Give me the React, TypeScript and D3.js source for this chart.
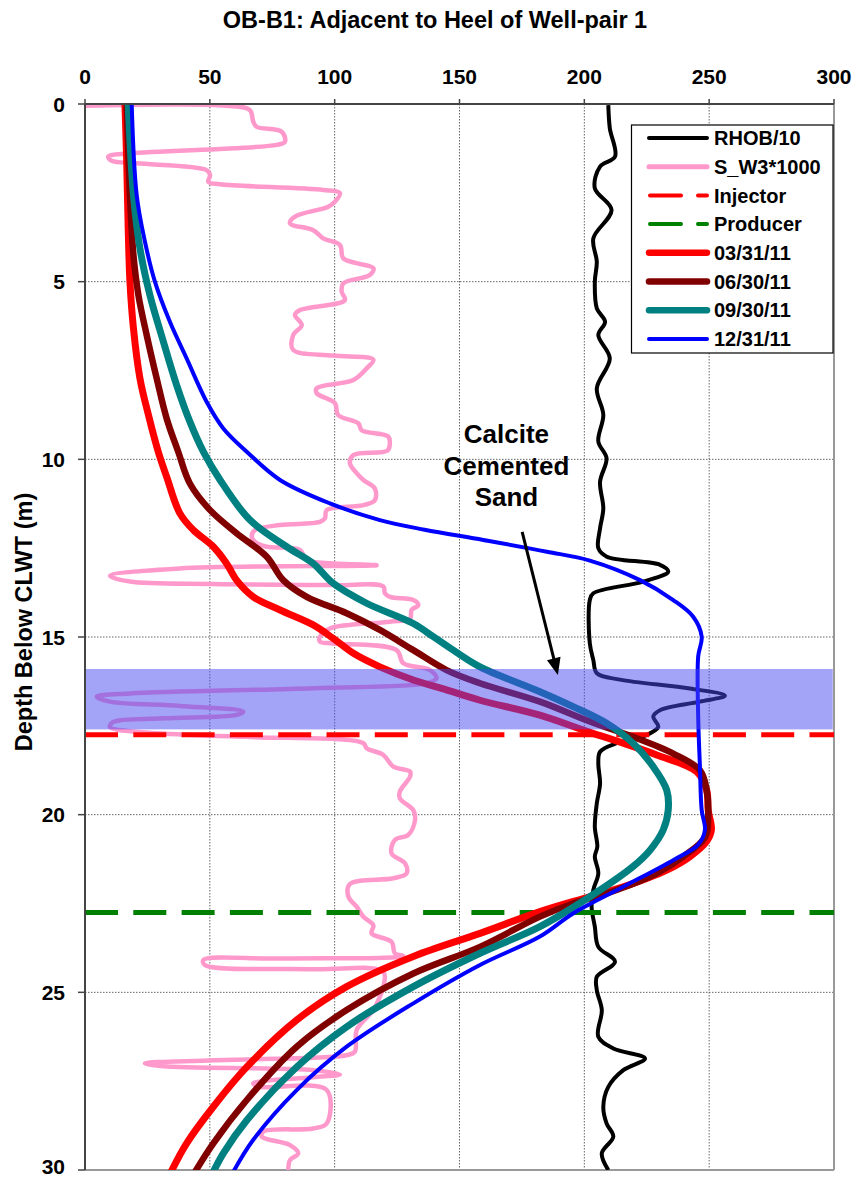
import React from 'react';
import * as d3 from 'd3';

const TITLE = 'OB-B1: Adjacent to Heel of Well-pair 1';
const Y_LABEL = 'Depth Below CLWT (m)';
const X_TICKS = [0, 50, 100, 150, 200, 250, 300];
const Y_TICKS = [0, 5, 10, 15, 20, 25, 30];
const INJECTOR_DEPTH = 17.75;
const PRODUCER_DEPTH = 22.75;
const CALCITE_TOP = 15.9;
const CALCITE_BOTTOM = 17.6;
const ANNOTATION_LINES = ['Calcite', 'Cemented', 'Sand'];

// [depth (m), value]
const RHOB: [number, number][] = [
  [0.03, 209.6], [0.68, 210.2], [1.48, 212.3], [1.76, 206.3], [2.37, 204.2], [2.98, 210.9],
  [3.78, 203.6], [4.44, 205], [5.0, 204.2], [5.75, 205], [6.13, 208.3], [6.5, 205.6],
  [7.16, 210.2], [8.0, 205], [8.75, 207.6], [9.5, 205.6], [9.97, 208.9], [10.63, 206.3],
  [11.38, 207.6], [11.94, 206.3], [12.5, 205.6], [12.74, 209], [12.97, 230.3], [13.16, 233.6],
  [13.44, 223.6], [13.77, 203.6], [13.96, 202.2], [15.18, 202.2], [15.65, 203.6], [16.02, 205],
  [16.2, 214.3], [16.45, 242.3], [16.65, 256.3], [16.82, 246.3], [17.06, 230.3], [17.24, 227.6],
  [17.53, 229.6], [17.8, 223.6], [17.99, 212.9], [18.23, 206.3], [18.56, 205.6], [19.12, 206.3],
  [19.68, 205], [20.34, 204.2], [20.9, 205.2], [21.18, 204.2], [21.65, 205.6], [22.12, 203.6],
  [22.59, 202.9], [23.15, 204.2], [23.72, 205.6], [24.14, 212.3], [24.56, 205], [24.94, 205],
  [25.5, 207], [26.25, 205.6], [26.58, 211.6], [26.86, 224.3], [27.19, 215.6], [27.66, 209.6],
  [28.22, 207.6], [28.69, 208.9], [29.06, 211.6], [29.53, 207], [30.0, 209.6],
];

const SW3: [number, number][] = [
  [0.05, 0], [0.05, 56.7], [0.17, 66], [0.5, 67.4], [0.64, 68.7], [0.78, 78.8], [1.06, 80.1],
  [1.15, 76.8], [1.39, 18], [1.48, 9.3], [1.6, 10.7], [1.67, 20.7], [1.86, 48.7], [2.0, 50.1],
  [2.19, 49.4], [2.26, 54.1], [2.42, 95.4], [2.51, 102.1], [2.75, 100.1], [2.89, 97.4],
  [3.17, 84.1], [3.36, 82.1], [3.55, 91.4], [3.78, 95.4], [3.97, 102.1], [4.34, 103.4],
  [4.48, 108.8], [4.62, 115.5], [4.81, 114.1], [5.05, 103.4], [5.28, 102.8], [5.52, 104.1],
  [5.8, 86.1], [5.94, 84.1], [6.22, 86.8], [6.5, 83.4], [6.92, 83.4], [7.08, 99.4], [7.2, 115.5],
  [7.44, 112.8], [7.77, 107.5], [8.0, 92.8], [8.14, 92.8], [8.42, 100.1], [8.75, 101.4],
  [8.99, 109.5], [9.18, 110.8], [9.36, 121.5], [9.55, 122.1], [9.75, 121.2], [9.88, 107.5],
  [10.11, 106.1], [10.39, 108.8], [10.58, 111.5], [10.82, 116.1], [11.15, 116.1], [11.29, 111.5],
  [11.43, 96.8], [11.66, 96.1], [11.76, 94.1], [11.85, 78.1], [11.99, 68.1], [12.18, 66.8],
  [12.36, 68.8], [12.46, 72.8], [12.55, 86.1], [12.83, 88.8], [12.93, 99.4], [12.98, 116.8],
  [13.07, 38], [13.28, 10], [13.44, 18], [13.51, 51.4], [13.54, 99.4], [13.58, 119.5],
  [13.77, 120.1], [13.87, 122.1], [13.96, 131.5], [14.1, 133.5], [14.24, 130.8], [14.48, 130.2],
  [14.57, 122.1], [14.76, 98.1], [14.99, 94.1], [15.13, 94.1], [15.18, 99.4], [15.37, 124.8],
  [15.74, 127.5], [15.93, 138.2], [16.16, 140.8], [16.3, 136.8], [16.44, 91.4], [16.59, 18],
  [16.68, 4.7], [16.82, 10], [16.94, 38], [17.1, 63.4], [17.19, 60.7], [17.29, 31.4],
  [17.39, 11.3], [17.53, 10], [17.69, 24.7], [17.81, 64.8], [17.99, 111.5], [18.13, 112.8],
  [18.32, 119.5], [18.65, 123.5], [18.79, 130.2], [18.93, 130.2], [19.35, 126.1], [19.54, 126.1],
  [19.87, 131.5], [20.15, 132.2], [20.57, 129.5], [20.71, 124.1], [21.09, 122.8], [21.37, 128.2],
  [21.65, 128.8], [21.79, 123.5], [21.95, 106.1], [22.31, 105.5], [22.59, 108.8], [22.87, 111.5],
  [23.11, 115.5], [23.34, 114.8], [23.58, 122.8], [23.9, 124.1], [23.98, 127.5], [24.05, 78.1],
  [24.09, 47.4], [24.23, 48], [24.35, 91.4], [24.42, 119.5], [24.84, 119.5], [25.22, 117.5],
  [25.5, 115.5], [26.06, 108.8], [26.67, 108.1], [26.77, 104.8], [26.91, 51.4], [27.0, 24],
  [27.08, 31.4], [27.19, 91.4], [27.31, 102.1], [27.39, 91.4], [27.56, 67.4], [27.66, 70.1],
  [27.75, 96.8], [28.69, 96.8], [28.83, 91.4], [28.92, 71.4], [29.06, 70.8], [29.3, 82.1],
  [29.53, 85.4], [29.72, 82.1], [30.0, 81.4],
];

const T_0331: [number, number][] = [
  [0, 16], [1.62, 16.7], [3.5, 17.3], [5.0, 18], [6.31, 19.4], [7.72, 22], [8.75, 25.4],
  [9.8, 29.4], [10.49, 32.7], [11.52, 38], [11.99, 43.4], [12.46, 51.4], [12.93, 56.7],
  [13.4, 60.7], [13.87, 67.4], [14.24, 78.1], [14.66, 91.4], [15.04, 99.4], [15.46, 107.5],
  [15.84, 118.1], [16.21, 131.5], [16.49, 144.8], [16.78, 158.2], [17.2, 182.2], [17.62, 199.6],
  [17.99, 215.6], [18.32, 229], [18.79, 245], [19.31, 249], [19.87, 249.6], [20.43, 250.9],
  [20.75, 249], [21.18, 242.3], [21.56, 233], [22.03, 215.6], [22.36, 199.6], [22.73, 182.2],
  [23.34, 158.2], [23.99, 131.5], [24.84, 104.8], [25.78, 84.8], [27.1, 64.8], [28.22, 51.4],
  [29.25, 40.7], [30.05, 34.5],
];

const T_0630: [number, number][] = [
  [0, 16.7], [2.56, 18], [4.25, 19.4], [5.38, 21.4], [6.5, 24.7], [7.72, 28.7], [8.85, 32.7],
  [9.8, 37.4], [10.68, 42], [11.43, 50.1], [12.08, 60.7], [12.74, 72.8], [13.4, 79.4],
  [13.87, 88.8], [14.33, 104.8], [14.8, 118.1], [15.37, 131.5], [15.93, 144.8], [16.3, 158.2],
  [16.82, 182.2], [17.38, 202.2], [17.81, 219.5], [18.28, 235.6], [18.75, 246.3], [19.31, 249],
  [20.06, 249.6], [20.62, 248.5], [21.18, 239.6], [21.65, 229], [22.12, 212.9], [22.5, 195.5],
  [22.87, 182.2], [23.72, 158.2], [24.47, 131.5], [25.5, 104.8], [26.53, 84.8], [28.03, 64.8],
  [29.25, 51.4], [30.05, 44.1],
];

const T_0930: [number, number][] = [
  [0, 17.3], [2.56, 19.4], [4.06, 22], [5.38, 26], [6.69, 31.4], [7.91, 36.7], [8.94, 42],
  [9.8, 47.5], [10.58, 54.1], [11.71, 66.1], [12.46, 80.8], [12.93, 91.4], [13.49, 99.4],
  [14.05, 112.8], [14.62, 131.5], [14.99, 139.5], [15.37, 147.5], [15.84, 158.2], [16.54, 182.2],
  [16.96, 195.5], [17.43, 208.9], [17.99, 219.5], [18.65, 227.6], [19.31, 233], [19.87, 233.6],
  [20.43, 231.6], [21.0, 226.3], [21.46, 219.5], [22.31, 202.2], [23.15, 182.2], [23.9, 158.2],
  [24.84, 131.5], [25.97, 104.8], [27.1, 84.8], [28.6, 64.8], [29.53, 55.4], [30.05, 51.4],
];

const T_1231: [number, number][] = [
  [0, 18.7], [2.56, 20.7], [3.87, 24], [5.0, 28], [6.13, 34], [7.16, 40.7], [8.38, 48.7],
  [9.13, 55.4], [9.8, 65], [10.58, 78.1], [11.24, 98.1], [11.71, 118.1], [11.98, 136],
  [12.27, 159.5], [12.6, 185], [12.85, 202.2], [13.4, 222.3], [13.96, 235.6], [14.43, 243.6],
  [14.99, 247], [15.55, 245.6], [17.24, 245.6], [18.65, 246.3], [19.87, 247], [20.43, 248.3],
  [20.85, 245.5], [21.28, 235.6], [22.03, 215.6], [22.78, 195.5], [23.43, 182.2], [24.23, 158.2],
  [25.31, 131.5], [26.53, 104.8], [27.75, 84.8], [29.15, 67.4], [30.05, 59.4],
];

const W = 857;
const H = 1177;
const M = { left: 85, right: 834, top: 104, bottom: 1170 };

interface Series {
  name: string;
  data: [number, number][];
  color: string;
  width: number;
}

const TEMP_SERIES: Series[] = [
  { name: '03/31/11', data: T_0331, color: '#FF0000', width: 7 },
  { name: '06/30/11', data: T_0630, color: '#800000', width: 6.5 },
  { name: '09/30/11', data: T_0930, color: '#008080', width: 7 },
  { name: '12/31/11', data: T_1231, color: '#0000FF', width: 4 },
];

const LEGEND = [
  { name: 'RHOB/10', color: '#000000', width: 4, dash: false },
  { name: 'S_W3*1000', color: '#FF99CC', width: 5, dash: false },
  { name: 'Injector', color: '#FF0000', width: 4, dash: true },
  { name: 'Producer', color: '#008000', width: 4, dash: true },
  { name: '03/31/11', color: '#FF0000', width: 6.5, dash: false },
  { name: '06/30/11', color: '#800000', width: 6.5, dash: false },
  { name: '09/30/11', color: '#008080', width: 6.5, dash: false },
  { name: '12/31/11', color: '#0000FF', width: 4, dash: false },
];

const FONT = "'Liberation Sans', Arial, Helvetica, sans-serif";

export default function App() {
  const x = d3.scaleLinear().domain([0, 300]).range([M.left, M.right]);
  const y = d3.scaleLinear().domain([0, 30]).range([M.top, M.bottom]);

  const line = d3
    .line<[number, number]>()
    .x((d) => x(d[1]))
    .y((d) => y(d[0]))
    .curve(d3.curveCatmullRom.alpha(0.5));

  // annotation arrow in data coords
  const a0 = { v: 175.1, d: 12.04 };
  const a1 = { v: 189.4, d: 16.07 };
  const ax0 = x(a0.v), ay0 = y(a0.d), ax1 = x(a1.v), ay1 = y(a1.d);
  const len = Math.hypot(ax1 - ax0, ay1 - ay0);
  const ux = (ax1 - ax0) / len, uy = (ay1 - ay0) / len;
  const headL = 17, headW = 7;
  const bx = ax1 - ux * headL, by = ay1 - uy * headL;
  const head = `${ax1},${ay1} ${bx - uy * headW},${by + ux * headW} ${bx + uy * headW},${by - ux * headW}`;

  const legX = 631.5, legY = 125, legW = 201.5, legH = 228;
  const rowY0 = 138, rowStep = 28.7;

  return (
    <svg width={W} height={H} style={{ position: 'absolute', left: 0, top: 0, background: '#fff' }} fontFamily={FONT}>
      <defs>
        <clipPath id="plot">
          <rect x={M.left} y={M.top} width={M.right - M.left} height={M.bottom - M.top} />
        </clipPath>
      </defs>
      <rect x={0} y={0} width={W} height={H} fill="#fff" />
      {/* title */}
      <text x={435} y={28} textAnchor="middle" fontSize={23.5} fontWeight="bold">{TITLE}</text>

      {/* gridlines */}
      {X_TICKS.filter((t) => t > 0 && t < 300).map((t) => (
        <line key={'gx' + t} x1={x(t)} x2={x(t)} y1={M.top} y2={M.bottom} stroke="#666" strokeWidth={1} strokeDasharray="1.5,1.5" />
      ))}
      {Y_TICKS.filter((t) => t > 0 && t < 30).map((t) => (
        <line key={'gy' + t} x1={M.left} x2={M.right} y1={y(t)} y2={y(t)} stroke="#666" strokeWidth={1} strokeDasharray="1.5,1.5" />
      ))}
      {/* right & bottom frame */}
      <line x1={M.right} x2={M.right} y1={M.top} y2={M.bottom} stroke="#999" strokeWidth={2} />
      <line x1={M.left} x2={M.right} y1={M.bottom} y2={M.bottom} stroke="#999" strokeWidth={2} />

      <g clipPath="url(#plot)">
        <path d={line(SW3) || ''} fill="none" stroke="#FF99CC" strokeWidth={4.5} strokeLinejoin="round" />
        <path d={line(RHOB) || ''} fill="none" stroke="#000" strokeWidth={4} strokeLinejoin="round" />
        <line x1={M.left} x2={M.right} y1={y(INJECTOR_DEPTH)} y2={y(INJECTOR_DEPTH)} stroke="#FF0000" strokeWidth={5} strokeDasharray="33,15.3" />
        <line x1={M.left} x2={M.right} y1={y(PRODUCER_DEPTH)} y2={y(PRODUCER_DEPTH)} stroke="#008000" strokeWidth={5} strokeDasharray="33,15.3" />
        {TEMP_SERIES.map((s) => (
          <path key={s.name} d={line(s.data) || ''} fill="none" stroke={s.color} strokeWidth={s.width} strokeLinejoin="round" strokeLinecap="round" />
        ))}
        <rect x={x(0)} y={y(CALCITE_TOP)} width={x(299.5) - x(0)} height={y(CALCITE_BOTTOM) - y(CALCITE_TOP)} fill="rgb(72,72,240)" fillOpacity={0.5} />
      </g>

      {/* axes */}
      <line x1={M.left} x2={M.right} y1={M.top} y2={M.top} stroke="#444" strokeWidth={2} />
      <line x1={M.left} x2={M.left} y1={M.top} y2={M.bottom} stroke="#444" strokeWidth={2} />
      {X_TICKS.map((t) => (
        <g key={'xt' + t}>
          <line x1={x(t)} x2={x(t)} y1={M.top - 5} y2={M.top} stroke="#444" strokeWidth={1.5} />
          <text x={x(t)} y={84} textAnchor="middle" fontSize={21} fontWeight="bold">{t}</text>
        </g>
      ))}
      {Y_TICKS.map((t) => (
        <g key={'yt' + t}>
          <line x1={M.left - 7} x2={M.left} y1={y(t)} y2={y(t)} stroke="#444" strokeWidth={1.5} />
          <text x={65} y={y(t)} dy={t === 30 ? '0.2em' : '0.36em'} textAnchor="end" fontSize={21} fontWeight="bold">{t}</text>
        </g>
      ))}
      <text transform={`translate(32, 622) rotate(-90)`} textAnchor="middle" fontSize={23.5} fontWeight="bold">{Y_LABEL}</text>

      {/* annotation */}
      {ANNOTATION_LINES.map((s, i) => (
        <text key={s} x={x(168.8)} y={y(9.55) + i * 31.4} textAnchor="middle" fontSize={26} fontWeight="bold">{s}</text>
      ))}
      <line x1={ax0} y1={ay0} x2={bx + ux * 2} y2={by + uy * 2} stroke="#000" strokeWidth={3} />
      <polygon points={head} fill="#000" />

      {/* legend */}
      <rect x={legX} y={legY} width={legW} height={legH} fill="#fff" stroke="#000" strokeWidth={1.2} />
      {LEGEND.map((l, i) => {
        const ry = rowY0 + i * rowStep;
        return (
          <g key={l.name}>
            {l.dash ? (
              <>
                <line x1={650} x2={681} y1={ry} y2={ry} stroke={l.color} strokeWidth={l.width} strokeLinecap="round" />
                <line x1={698} x2={707} y1={ry} y2={ry} stroke={l.color} strokeWidth={l.width} strokeLinecap="round" />
              </>
            ) : (
              <line x1={649} x2={707} y1={ry} y2={ry} stroke={l.color} strokeWidth={l.width} strokeLinecap="round" />
            )}
            <text x={714} y={ry} dy="0.36em" fontSize={20} fontWeight="bold">{l.name}</text>
          </g>
        );
      })}
    </svg>
  );
}
